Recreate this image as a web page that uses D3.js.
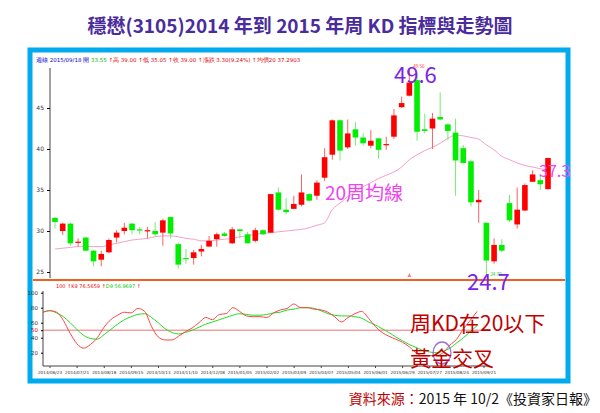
<!DOCTYPE html>
<html><head><meta charset="utf-8">
<script src="https://cdn.jsdelivr.net/npm/d3@7"></script>
<style>body{margin:0;background:#fff}svg{display:block;font-family:"Noto Sans CJK TC","Noto Sans",sans-serif}</style>
</head><body><svg id="c" width="600" height="413"></svg>
<script>
const opens  = [31.6,30.0,30.9,28.6,29.2,27.6,26.5,27.4,29.2,30.0,30.9,30.2,30.1,30.0,29.8,31.7,28.4,26.7,26.7,27.5,28.1,29.0,29.7,28.5,30.2,29.6,28.8,30.1,29.8,34.7,32.6,32.7,33.2,34.5,34.3,36.5,39.3,43.5,40.2,42.4,41.4,40.4,41.3,40.5,41.5,45.1,46.5,48.4,42.4,42.5,43.9,43.0,42.0,40.1,38.5,33.5,31.0,26.3,28.3,33.4,30.8,32.5,36.0,36.2,35.1];
const closes = [31.1,30.9,28.5,28.7,27.6,26.3,27.2,28.9,29.8,30.4,30.1,30.1,30.1,29.6,31.3,29.7,25.9,26.6,27.4,27.8,28.8,29.6,29.4,30.2,30.0,28.5,30.1,29.6,34.5,32.6,32.3,33.3,34.7,33.7,35.9,39.0,43.5,39.8,41.9,41.4,40.7,41.0,39.9,40.6,44.1,45.6,48.1,42.1,42.2,43.7,43.6,42.2,38.6,38.3,33.5,33.8,26.4,28.3,27.6,31.3,32.6,35.6,36.9,35.7,38.9];
const highs  = [31.7,31.0,31.0,29.1,29.3,27.7,27.6,29.1,30.1,31.0,31.0,30.5,30.5,31.1,31.5,31.7,28.6,27.8,27.7,28.3,29.4,29.8,29.9,30.5,30.2,29.9,30.4,30.2,34.5,35.3,34.0,34.3,36.9,34.6,36.2,40.1,43.6,43.6,43.6,43.3,41.9,42.3,41.3,41.5,44.9,46.4,49.6,49.1,44.3,44.4,46.9,43.1,43.7,40.5,38.7,35.0,31.0,29.1,29.0,34.4,35.3,35.8,37.4,36.9,38.9];
const lows   = [30.3,29.5,28.2,28.1,27.5,25.7,25.7,27.3,28.6,29.6,29.6,29.6,29.1,29.3,28.2,29.1,25.4,26.0,25.9,26.9,28.1,28.1,29.3,28.4,29.1,28.5,28.6,29.5,29.8,32.5,32.0,32.7,33.0,33.6,33.8,36.1,38.7,38.6,40.0,40.4,40.4,40.1,38.8,39.9,41.2,45.0,46.4,41.0,41.9,40.0,43.5,41.1,34.3,38.2,33.0,31.0,24.7,26.0,27.4,31.1,30.3,32.4,36.0,35.0,35.1];
const ma20   = [27.8,27.9,28.0,28.1,28.1,28.1,28.1,28.3,28.5,28.7,28.9,29.0,29.1,29.3,29.4,29.4,29.3,29.1,29.0,28.8,28.8,28.9,29.0,29.1,29.3,29.4,29.6,29.7,29.8,29.9,30.0,30.1,30.2,30.4,30.7,31.0,32.6,33.4,34.2,34.8,35.4,35.9,36.4,36.8,37.2,37.8,38.7,39.3,39.8,40.2,40.7,41.3,41.7,41.6,41.4,41.2,40.5,39.9,39.1,38.7,38.3,38.0,37.8,37.6,37.4];
const kVals  = [74,76,74,63,46,32,26,31,40,54,64,70,74,73,79,75,55,41,37,37,42,48,53,60,67,64,71,72,80,75,69,68,68,67,73,77,79,85,80,80,78,77,74,68,61,67,72,75,66,55,47,42,38,34,28,20,16,16,16,20,30,38,52,63,75];
const dVals  = [74,76,73,68,60,51,43,39,38,44,51,58,64,68,71,72,67,60,52,47,45,47,50,54,58,61,64,67,70,72,71,70,70,71,73,74,77,78,80,80,79,76,72,70,69,69,68,66,61,57,52,47,41,36,31,27,23,21,20,22,26,33,40,48,56];
const priceTicks = [25,30,35,40,45];
const kdTicks = [20,40,50,60,80,100];
const dateLabels = ["2014/06/23","2014/07/21","2014/08/18","2014/09/15","2014/10/13","2014/11/10","2014/12/08","2015/01/05","2015/02/02","2015/03/09","2015/04/07","2015/05/04","2015/06/01","2015/06/29","2015/07/27","2015/08/24","2015/09/21"];

const svg = d3.select("#c");
const n = opens.length;
const RED="#ff0000", GREEN="#00ee00";
svg.append("text").attr("x",300).attr("y",33).attr("text-anchor","middle").attr("font-size",19).attr("font-weight","bold").attr("fill","#4a2c9c").text("穩懋(3105)2014 年到 2015 年周 KD 指標與走勢圖");
svg.append("rect").attr("x",30).attr("y",50).attr("width",538).attr("height",331).attr("fill","#fff").attr("stroke","#00aaee").attr("stroke-width",5);
svg.append("line").attr("x1",33).attr("x2",565).attr("y1",280).attr("y2",280).attr("stroke","#f06020").attr("stroke-width",2);

const x = d3.scaleLinear().domain([0,n-1]).range([55,548]);
const y = d3.scaleLinear().domain([25,45]).range([272,108]);
const ax = svg.append("g").attr("transform","translate(50,0)").call(d3.axisLeft(y).tickValues(priceTicks).tickSize(3));
ax.select(".domain").attr("d","M0,68V278").attr("stroke","#444");
ax.selectAll("text").attr("font-size",6).attr("fill","#333").attr("font-family","DejaVu Sans");
svg.append("text").attr("x",36).attr("y",62).attr("font-size",5.5).attr("font-family","DejaVu Sans").attr("fill","#0000cc").text("週線  2015/09/18 開 ").append("tspan").attr("fill","#00bb00").text("33.55 ").append("tspan").attr("fill","#dd0000").text("↑高 39.00 ↑低 35.05 ↑收 39.00 ↑漲跌 3.30(9.24%) ↑均價20 37.2903");

const idx = d3.range(n);
svg.append("path").attr("d",d3.line().x(i=>x(i)).y(i=>y(ma20[i])).curve(d3.curveMonotoneX)(idx)).attr("fill","none").attr("stroke","#f4a0c8").attr("stroke-width",1);
const cg = svg.append("g");
idx.forEach(i=>{
  const up = closes[i]>=opens[i], col = up?RED:GREEN;
  cg.append("line").attr("x1",x(i)).attr("x2",x(i)).attr("y1",y(highs[i])).attr("y2",y(lows[i])).attr("stroke",up?"#ff6060":"#70ee70").attr("stroke-width",1);
  const t=y(Math.max(opens[i],closes[i])), b=y(Math.min(opens[i],closes[i]));
  cg.append("rect").attr("x",x(i)-2.8).attr("width",5.6).attr("y",t).attr("height",Math.max(1.2,b-t)).attr("fill",col);
});
svg.append("path").attr("d",`M${x(46)},273l-2,4h4z`).attr("fill","#ff8080");
svg.append("text").attr("x",x(46)+4).attr("y",68).attr("font-size",4.5).attr("fill","#ff3030").text("49.56");
svg.append("text").attr("x",x(56)+4).attr("y",276).attr("font-size",4.5).attr("fill","#00cc00").text("24.70");

svg.append("text").attr("x",x(46)+6).attr("y",83).attr("text-anchor","middle").attr("font-size",22).attr("fill","#7b22e8").text("49.6");
svg.append("text").attr("x",x(56)+2).attr("y",290).attr("text-anchor","middle").attr("font-size",22).attr("fill","#7b22e8").text("24.7");
svg.append("text").attr("x",539).attr("y",177).attr("font-size",16).attr("fill","#ee44ee").text("37.3");
svg.append("text").attr("x",325).attr("y",200).attr("font-size",19).attr("fill","#ee44ee").text("20周均線");

const xk = d3.scaleLinear().domain([0,n-1]).range([43,477]);
const yk = d3.scaleLinear().domain([20,100]).range([352.7,292.7]);
svg.append("text").attr("x",56).attr("y",288).attr("font-size",5).attr("font-family","DejaVu Sans").attr("fill","#ee0000").text("100 ↑K9 76.5659 ↑").append("tspan").attr("fill","#00cc00").text("D9 56.9697 ").append("tspan").attr("fill","#ee0000").text("↑");
const kax = svg.append("g").attr("transform","translate(43,0)").call(d3.axisLeft(yk).tickValues(kdTicks).tickSize(2));
kax.select(".domain").attr("d","M0,291V366").attr("stroke","#444");
kax.selectAll("text").attr("font-size",5.5).attr("font-family","DejaVu Sans").attr("fill",d=>d===50?"#cc0000":"#333");
svg.append("line").attr("x1",43).attr("x2",490).attr("y1",366).attr("y2",366).attr("stroke","#444");
svg.append("line").attr("x1",43).attr("x2",490).attr("y1",yk(50)).attr("y2",yk(50)).attr("stroke","#e05050").attr("stroke-width",0.8);
const bx = svg.append("g");
dateLabels.forEach((d,j)=>{
  const xx=xk(j*4)+7;
  bx.append("line").attr("x1",xx).attr("x2",xx).attr("y1",366).attr("y2",368).attr("stroke","#444");
  bx.append("text").attr("x",xx).attr("y",373.5).attr("text-anchor","middle").attr("font-size",4.2).attr("font-family","DejaVu Sans").attr("fill","#333").text(d);
});
const lk = d3.line().x((v,i)=>xk(i)).y(v=>yk(v)).curve(d3.curveMonotoneX);
svg.append("path").attr("d",lk(dVals)).attr("fill","none").attr("stroke","#22dd22").attr("stroke-width",1);
svg.append("path").attr("d",lk(kVals)).attr("fill","none").attr("stroke","#ff4444").attr("stroke-width",1);
svg.append("ellipse").attr("cx",442).attr("cy",353).attr("rx",9).attr("ry",11).attr("fill","none").attr("stroke","#9a70d8").attr("stroke-width",1.3);
svg.append("text").attr("x",410).attr("y",331).attr("font-size",21).attr("fill","#c00000").text("周KD在20以下");
svg.append("text").attr("x",410).attr("y",366).attr("font-size",21).attr("fill","#c00000").text("黃金交叉");

const src = svg.append("text").attr("x",597).attr("y",404).attr("text-anchor","end").attr("font-size",14);
src.append("tspan").attr("fill","#c00000").text("資料來源：");
src.append("tspan").attr("fill","#111").text("2015 年 10/2《投資家日報》");
</script></body></html>
